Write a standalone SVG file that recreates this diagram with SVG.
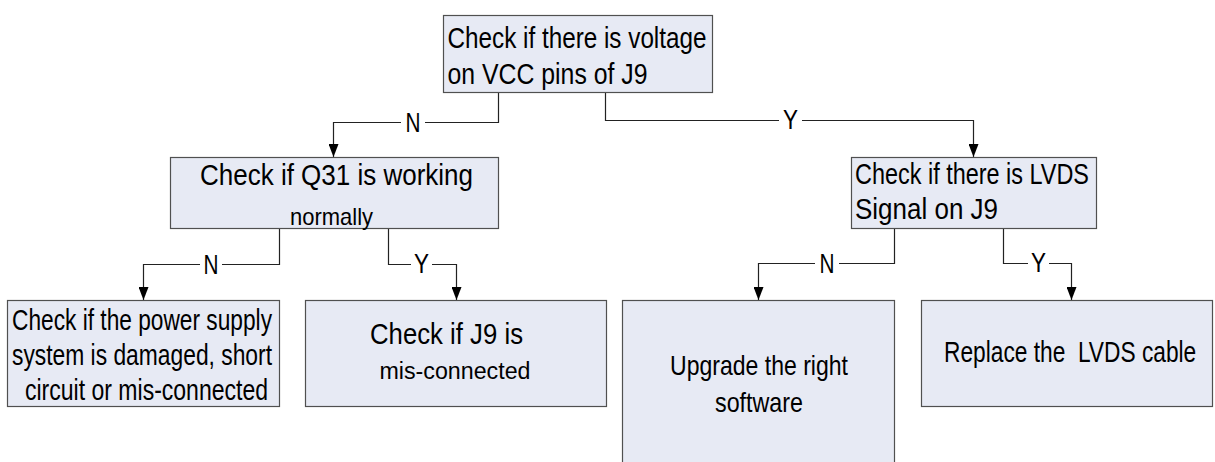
<svg xmlns="http://www.w3.org/2000/svg" width="1215" height="462" viewBox="0 0 1215 462">
<style>
.box{fill:#e7eaf4;stroke:#505050;stroke-width:1.2}
.t{font-family:"Liberation Sans",Arial,sans-serif;font-size:29px;fill:#000}
.s{font-size:24px}
.lbl{font-family:"Liberation Sans",Arial,sans-serif;font-size:28px;fill:#000;text-anchor:middle}
.ln{fill:none;stroke:#222;stroke-width:1.2;marker-end:url(#arr)}
.bg{fill:#fff}
</style>
<defs>
<marker id="arr" markerUnits="userSpaceOnUse" viewBox="0 0 13 10" markerWidth="13" markerHeight="10" refX="13" refY="5" orient="auto">
<path d="M0,0 L13,5 L0,10 z" fill="#000"/>
</marker>
</defs>
<rect width="1215" height="462" fill="#fff"/>
<g id="connectors">
<path class="ln" d="M498.5,92 V122.5 H333.5 V157"/>
<path class="ln" d="M605.5,92 V120.5 H973.5 V157"/>
<path class="ln" d="M279.5,228 V264.5 H143.5 V300"/>
<path class="ln" d="M388.5,228 V264.5 H456.5 V300"/>
<path class="ln" d="M894.5,229 V263.5 H758.5 V300"/>
<path class="ln" d="M1003.5,229 V263.5 H1071.5 V300"/>
<rect class="bg" x="401" y="118" width="24" height="9"/>
<text class="lbl" x="413" y="131.5" textLength="15" lengthAdjust="spacingAndGlyphs">N</text>
<rect class="bg" x="779" y="116" width="23" height="9"/>
<text class="lbl" x="790.5" y="129" textLength="15" lengthAdjust="spacingAndGlyphs">Y</text>
<rect class="bg" x="200" y="260" width="22" height="9"/>
<text class="lbl" x="211" y="273.5" textLength="15" lengthAdjust="spacingAndGlyphs">N</text>
<rect class="bg" x="411" y="260" width="21" height="9"/>
<text class="lbl" x="421.5" y="273" textLength="15" lengthAdjust="spacingAndGlyphs">Y</text>
<rect class="bg" x="815" y="259" width="24" height="9"/>
<text class="lbl" x="827" y="272.5" textLength="15" lengthAdjust="spacingAndGlyphs">N</text>
<rect class="bg" x="1028" y="259" width="21" height="9"/>
<text class="lbl" x="1038.5" y="272" textLength="15" lengthAdjust="spacingAndGlyphs">Y</text>
</g>
<g id="node-voltage">
<rect class="box" x="443.5" y="15.5" width="269" height="77"/>
<text class="t" x="447.5" y="47.5" textLength="259" lengthAdjust="spacingAndGlyphs">Check if there is voltage</text>
<text class="t" x="447.5" y="84" textLength="200" lengthAdjust="spacingAndGlyphs">on VCC pins of J9</text>
</g>
<g id="node-q31">
<rect class="box" x="170.5" y="157.5" width="328" height="71"/>
<text class="t" x="200" y="185" textLength="273" lengthAdjust="spacingAndGlyphs">Check if Q31 is working</text>
<text class="t s" x="290" y="225" textLength="83" lengthAdjust="spacingAndGlyphs">normally</text>
</g>
<g id="node-lvds">
<rect class="box" x="851.5" y="157.5" width="245" height="71"/>
<text class="t" x="855" y="183.5" textLength="234" lengthAdjust="spacingAndGlyphs">Check if there is LVDS</text>
<text class="t" x="855" y="218.5" textLength="143" lengthAdjust="spacingAndGlyphs">Signal on J9</text>
</g>
<g id="node-power">
<rect class="box" x="7.5" y="300.5" width="272" height="106"/>
<text class="t" x="12" y="330" textLength="260" lengthAdjust="spacingAndGlyphs">Check if the power supply</text>
<text class="t" x="12" y="365" textLength="260" lengthAdjust="spacingAndGlyphs">system is damaged, short</text>
<text class="t" x="25" y="400" textLength="243" lengthAdjust="spacingAndGlyphs">circuit or mis-connected</text>
</g>
<g id="node-j9">
<rect class="box" x="305.5" y="300.5" width="301" height="106"/>
<text class="t" x="370" y="343.5" textLength="153" lengthAdjust="spacingAndGlyphs">Check if J9 is</text>
<text class="t" x="379.5" y="378.5" style="font-size:23px" textLength="151" lengthAdjust="spacingAndGlyphs">mis-connected</text>
</g>
<g id="node-upgrade">
<rect class="box" x="622.5" y="300.5" width="272" height="175"/>
<text class="t" x="670" y="375" style="font-size:28px" textLength="178" lengthAdjust="spacingAndGlyphs">Upgrade the right</text>
<text class="t" x="715" y="411.5" style="font-size:28px" textLength="88" lengthAdjust="spacingAndGlyphs">software</text>
</g>
<g id="node-replace">
<rect class="box" x="921.5" y="300.5" width="291" height="106"/>
<text class="t" transform="translate(944,361.5) scale(0.784,1)" x="0" y="0" xml:space="preserve">Replace the  LVDS cable</text>
</g>
</svg>
